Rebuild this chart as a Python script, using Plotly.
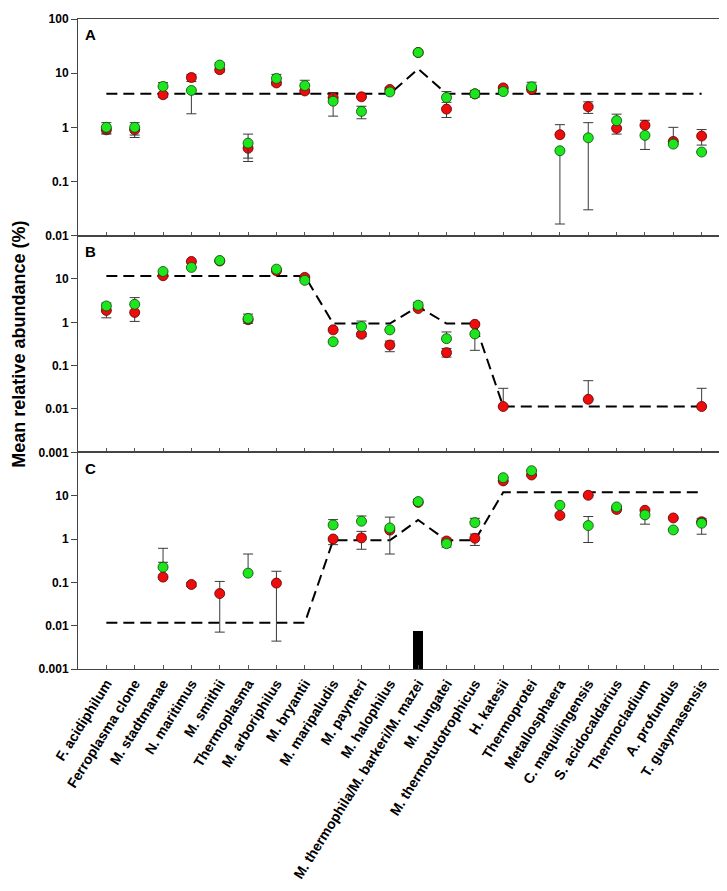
import plotly.graph_objects as go

categories = ["F. acidiphilum", "Ferroplasma clone", "M. stadtmanae", "N. maritimus", "M. smithii",
              "Thermoplasma", "M. arboriphilus", "M. bryantii", "M. maripaludis", "M. paynteri",
              "M. halophilus", "M. thermophila/M. barkeri/M. mazei", "M. hungatei",
              "M. thermotutotrophicus", "H. katesii", "Thermoprotei", "Metallosphaera",
              "C. maquilingensis", "S. acidocaldarius", "Thermocladium", "A. profundus", "T. guaymasensis"]

# Panel A
red_A = [0.9, 0.9, 4.0, 8.3, 11.6, 0.41, 6.6, 4.7, 3.55, 3.66, 5.0, 24, 2.17, 4.15, 5.35, 5.0, 0.73, 2.4, 0.96, 1.09, 0.55, 0.69]
red_A_hi = [None, None, None, 9.5, None, None, None, None, None, None, 5.4, None, 2.9, None, None, None, 1.12, 2.96, None, 1.35, None, 0.91]
red_A_lo = [0.75, 0.65, 3.6, 7.0, 10.5, 0.234, 6.0, 4.3, None, None, None, None, 1.52, None, None, None, None, 1.81, 0.75, None, None, 0.47]
green_A = [1.0, 1.0, 5.7, 4.8, 14.1, 0.51, 8.0, 5.9, 3.04, 1.97, 4.5, 24.1, 3.55, 4.15, 4.57, 5.6, 0.37, 0.64, 1.33, 0.71, 0.49, 0.35]
green_A_hi = [1.22, 1.22, 6.7, None, 15.5, 0.75, 9.5, 7.4, 4.4, 2.45, None, 26, 4.57, 4.8, None, 6.8, None, 1.22, 1.75, None, 1.0, None]
green_A_lo = [0.78, 0.72, None, 1.78, None, 0.27, None, None, 1.61, 1.44, None, 22, None, 3.6, None, None, 0.0164, 0.030, None, 0.39, None, None]
line_A = [4.15, 4.15, 4.15, 4.15, 4.15, 4.15, 4.15, 4.15, 4.15, 4.15, 4.15, 12.0,
          4.15, 4.15, 4.15, 4.15, 4.15, 4.15, 4.15, 4.15, 4.15, 4.15]

# Panel B
red_B = [1.88, 1.69, 11.9, 25.4, 26, 1.15, 15.5, 10.9, 0.67, 0.53, 0.30, 2.08, 0.20, 0.90, 0.0114, None, None, 0.0167, None, None, None, 0.0114]
red_B_hi = [None, None, None, None, None, None, None, None, None, None, 0.37, None, 0.25, 1.0, 0.030, None, None, 0.045, None, None, None, 0.030]
red_B_lo = [1.27, 1.05, None, None, None, None, None, None, None, 0.47, 0.21, None, 0.158, None, None, None, None, None, None, None, None, None]
green_B = [2.39, 2.61, 14.9, 18.5, 26.7, 1.23, 16.9, 9.3, 0.357, 0.80, 0.67, 2.48, 0.42, 0.54, None, None, None, None, None, None, None, None]
green_B_hi = [2.8, 3.72, None, None, None, 1.55, None, None, None, 1.07, None, 2.9, 0.6, None, None, None, None, None, None, None, None, None]
green_B_lo = [None, None, None, None, None, 0.95, None, None, None, None, None, None, None, 0.226, None, None, None, None, None, None, None, None]
line_B = [11.7, 11.7, 11.7, 11.7, 11.7, 11.7, 11.7, 11.7, 0.94, 0.94, 0.94, 2.3,
          0.94, 0.94, 0.0114, 0.0114, 0.0114, 0.0114, 0.0114, 0.0114, 0.0114, 0.0114]

# Panel C
red_C = [None, None, 0.132, 0.089, 0.055, None, 0.096, None, 1.0, 1.06, 1.6, 7.0, 0.9, 1.04, 21.9, 30, 3.5, 10.2, 4.8, 4.6, 3.06, 2.5]
red_C_hi = [None, None, 0.29, 0.1, 0.105, None, 0.18, None, None, 1.5, None, None, 1.05, 1.3, None, None, None, None, None, None, None, None]
red_C_lo = [None, None, None, 0.08, 0.0071, None, 0.0044, None, 0.74, 0.58, None, None, None, 0.71, None, None, None, None, None, None, None, None]
green_C = [None, None, 0.224, None, None, 0.163, None, None, 2.11, 2.57, 1.8, 7.3, 0.78, 2.39, 26.0, 37.7, 6.0, 2.04, 5.5, 3.6, 1.62, 2.31]
green_C_hi = [None, None, 0.61, None, None, 0.45, None, None, 2.8, 3.4, 3.2, 8.3, None, 3.0, None, None, None, 3.3, None, None, None, 3.0]
green_C_lo = [None, None, None, None, None, None, None, None, None, None, 0.45, None, 0.65, None, None, None, None, 0.83, None, 2.2, None, 1.29]
line_C = [0.0116, 0.0116, 0.0116, 0.0116, 0.0116, 0.0116, 0.0116, 0.0116, 0.93, 0.93, 0.93, 2.75,
          0.93, 0.93, 12.0, 12.0, 12.0, 12.0, 12.0, 12.0, 12.0, 12.0]
bar_C = [None, None, None, None, None, None, None, None, None, None, None, 0.0074,
         None, None, None, None, None, None, None, None, None, None]

x = list(range(len(categories)))

RED = "#ee0d0d"
GREEN = "#1ee61e"
ERR = "#3a3a3a"
FONT = "Liberation Sans, Arial, sans-serif"


def errs(vals, hi, lo):
    plus, minus = [], []
    for v, h, l in zip(vals, hi, lo):
        plus.append(h - v if (v is not None and h is not None) else 0)
        minus.append(v - l if (v is not None and l is not None) else 0)
    return plus, minus


fig = go.Figure()
panels = [
    ("", red_A, red_A_hi, red_A_lo, green_A, green_A_hi, green_A_lo, line_A),
    ("2", red_B, red_B_hi, red_B_lo, green_B, green_B_hi, green_B_lo, line_B),
    ("3", red_C, red_C_hi, red_C_lo, green_C, green_C_hi, green_C_lo, line_C),
]

for sfx, r, rh, rl, g, gh, gl, ln in panels:
    xa, ya = "x" + sfx, "y" + sfx
    if sfx == "3":
        fig.add_trace(go.Bar(x=x, y=bar_C, width=0.34, marker=dict(color="black", line=dict(width=0)),
                             xaxis=xa, yaxis=ya, showlegend=False, hoverinfo="skip"))
    fig.add_trace(go.Scatter(x=x, y=ln, mode="lines", line=dict(color="black", width=2, dash="11px,6px"),
                             xaxis=xa, yaxis=ya, showlegend=False, hoverinfo="skip"))
    p, m = errs(r, rh, rl)
    fig.add_trace(go.Scatter(x=x, y=r, mode="markers",
                             marker=dict(color=RED, size=10, line=dict(color="#5a0000", width=0.8)),
                             error_y=dict(type="data", symmetric=False, array=p, arrayminus=m,
                                          color=ERR, thickness=1, width=5),
                             xaxis=xa, yaxis=ya, showlegend=False))
    p, m = errs(g, gh, gl)
    fig.add_trace(go.Scatter(x=x, y=g, mode="markers",
                             marker=dict(color=GREEN, size=10, line=dict(color="#0a4a0a", width=0.8)),
                             error_y=dict(type="data", symmetric=False, array=p, arrayminus=m,
                                          color=ERR, thickness=1, width=5),
                             xaxis=xa, yaxis=ya, showlegend=False))

tickfont = dict(family=FONT, size=12, color="black", weight="bold")
xtickfont = dict(family=FONT, size=14, color="black", weight="bold")
xcommon = dict(range=[-1, 22], tickvals=x, ticks="inside", ticklen=4, tickcolor="#555",
               showline=True, linecolor="#444", linewidth=1, mirror=True, showgrid=False,
               zeroline=False, domain=[0, 1])
ycommon = dict(type="log", ticks="outside", ticklen=6, tickcolor="#444", showline=True,
               linecolor="#444", linewidth=1, mirror=True, showgrid=False, zeroline=False,
               tickfont=tickfont)

fig.update_layout(
    width=727, height=891,
    margin=dict(l=70, r=4, t=7, b=230),
    paper_bgcolor="white", plot_bgcolor="white",
    bargap=0,
    xaxis=dict(**xcommon, anchor="y", showticklabels=False),
    xaxis2=dict(**xcommon, anchor="y2", showticklabels=False, matches="x"),
    xaxis3=dict(**xcommon, anchor="y3", showticklabels=True, ticktext=categories,
                tickangle=-58, tickfont=xtickfont, matches="x"),
    yaxis=dict(**ycommon, domain=[2 / 3, 1], range=[-2, 2], anchor="x",
               tickvals=[0.01, 0.1, 1, 10, 100], ticktext=["0.01", "0.1", "1", "10", "100"]),
    yaxis2=dict(**ycommon, domain=[1 / 3, 2 / 3], range=[-3, 2], anchor="x2",
                tickvals=[0.001, 0.01, 0.1, 1, 10], ticktext=["0.001", "0.01", "0.1", "1", "10"]),
    yaxis3=dict(**ycommon, domain=[0, 1 / 3], range=[-3, 2], anchor="x3",
                tickvals=[0.001, 0.01, 0.1, 1, 10], ticktext=["0.001", "0.01", "0.1", "1", "10"]),
    annotations=[
        dict(text="Mean relative abundance (%)", x=-0.091, y=0.5, xref="paper", yref="paper",
             textangle=-90, showarrow=False, xanchor="center", yanchor="middle",
             font=dict(family=FONT, size=18, color="black", weight="bold")),
        dict(text="A", x=0.008, y=0.992, xref="paper", yref="paper", showarrow=False,
             xanchor="left", yanchor="top",
             font=dict(family=FONT, size=15, color="black", weight="bold")),
        dict(text="B", x=0.008, y=2 / 3 - 0.008, xref="paper", yref="paper", showarrow=False,
             xanchor="left", yanchor="top",
             font=dict(family=FONT, size=15, color="black", weight="bold")),
        dict(text="C", x=0.008, y=1 / 3 - 0.008, xref="paper", yref="paper", showarrow=False,
             xanchor="left", yanchor="top",
             font=dict(family=FONT, size=15, color="black", weight="bold")),
    ],
)

fig.write_html("out.html")
